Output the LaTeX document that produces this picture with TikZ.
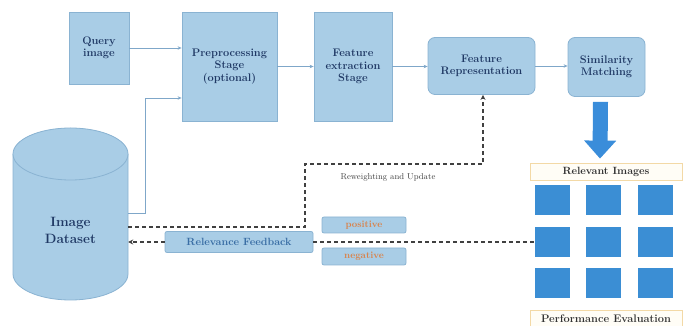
\documentclass[tikz,border=0pt]{standalone}
\usetikzlibrary{arrows.meta,calc}
\definecolor{boxfill}{HTML}{A9CDE6}
\definecolor{boxdraw}{HTML}{8AB3D2}
\definecolor{boxtext}{HTML}{1F3864}
\definecolor{flowline}{HTML}{7FA7C9}
\definecolor{dashline}{HTML}{404040}
\definecolor{bigblue}{HTML}{3A8DDA}
\definecolor{tileblue}{HTML}{3B8ED4}
\definecolor{labeldraw}{HTML}{F3D9A6}
\definecolor{labelfill}{HTML}{FFFDF6}
\definecolor{fbtext}{HTML}{3A6EA5}
\definecolor{orangetext}{HTML}{D9824A}
\tikzset{
  stagebox/.style={draw=boxdraw,fill=boxfill,line width=0.8pt,align=center,text=boxtext,
    font=\bfseries\fontsize{11}{12.5}\selectfont,inner sep=1pt},
  roundbox/.style={stagebox,rounded corners=7pt},
  flow/.style={draw=flowline,line width=0.8pt,-{Stealth[length=4pt,width=3.5pt]}},
  dashflow/.style={draw=dashline,line width=1.5pt,dash pattern=on 4pt off 3pt},
  tile/.style={fill=tileblue,draw=none,minimum width=35pt,minimum height=30pt,inner sep=0pt},
  labelbox/.style={draw=labeldraw,fill=labelfill,line width=0.8pt,minimum width=152pt,
    text=black!80,font=\bfseries\fontsize{10.5}{12}\selectfont,inner sep=0pt},
  signbox/.style={draw=boxdraw,fill=boxfill,line width=0.8pt,minimum width=84pt,minimum height=16pt,
    rounded corners=2pt,inner sep=0pt,text=orangetext,font=\bfseries\fontsize{9.5}{11}\selectfont}
}
\begin{document}
\begin{tikzpicture}[x=1pt,y=1pt]
\useasboundingbox (0,0) rectangle (686,326);
% stage boxes
\node[stagebox,minimum width=60pt,minimum height=72pt] (q) at (99,278) {Query\\image};
\node[stagebox,minimum width=95pt,minimum height=109pt] (pre) at (229.5,259.5) {Preprocessing\\Stage\\(optional)};
\node[stagebox,minimum width=78pt,minimum height=109pt] (fe) at (353,259.5) {Feature\\extraction\\Stage};
\node[roundbox,minimum width=107pt,minimum height=57pt] (fr) at (481.5,260) {Feature\\Representation};
\node[roundbox,minimum width=77pt,minimum height=59pt] (sm) at (606.5,259) {Similarity\\Matching};
% cylinder
\fill[boxfill] (13,172) -- (13,52) arc (180:360:57.5 and 26) -- (128,172) arc (0:180:57.5 and 26) -- cycle;
\draw[boxdraw,line width=0.8pt] (13,172) -- (13,52) arc (180:360:57.5 and 26) -- (128,172);
\draw[boxdraw,line width=0.8pt,fill=boxfill] (70.5,172) ellipse (57.5 and 26);
\node[minimum width=115pt,minimum height=172pt,inner sep=0pt] (ds) at (70.5,112) {};
\node[align=center,text=boxtext,font=\bfseries\fontsize{13.5}{17}\selectfont] (dst) at (70.5,96) {Image\\Dataset};
% flow arrows
\draw[flow] (q.east) -- (q.east -| pre.west);
\draw[flow] (pre.east) -- (pre.east -| fe.west);
\draw[flow] (fe.east) -- (fe.east -| fr.west);
\draw[flow] (fr.east) -- (fr.east -| sm.west);
\coordinate (dsr) at (ds.east |- 0,113);
\draw[flow] (dsr) -| (145,228) -- (pre.west |- 0,228);
% big arrow
\node[labelbox,minimum height=17pt] (rel) at (606,154.5) {Relevant Images};
\draw[bigblue,line width=15pt,-{Triangle[width=31pt,length=18pt]}] ($(sm.south)+(-6,-5)$) -- ($(rel.north)+(-6,4)$);
% tiles
\foreach \c/\x in {1/552.5,2/603,3/655.5}{
  \foreach \r/\y in {1/126,2/84,3/43}{
    \node[tile] (t\r\c) at (\x,\y) {};
  }
}
\node[labelbox,minimum height=18pt,font=\bfseries\fontsize{11}{12}\selectfont] (pe) at (606,7) {Performance Evaluation};
% feedback
\node[signbox,minimum width=148pt,minimum height=21pt,text=fbtext,font=\bfseries\fontsize{10.5}{12}\selectfont] (rf) at (239,84) {Relevance Feedback};
\node[signbox] (pos) at (364,101) {positive};
\node[signbox,minimum height=17pt] (neg) at (364,69.5) {negative};
\draw[dashflow,-{Stealth[length=5pt,width=5pt]}] (rf.west) -- (rf.west -| ds.east);
\draw[dashflow] (rf.east) -- (t21.west);
\coordinate (dsd) at (ds.east |- 0,99);
\draw[dashflow,-{Stealth[length=5pt,width=5pt]}] (dsd) -| (305,162) -| (fr.south -| 483,0);
\node[font=\fontsize{8.5}{10}\selectfont,text=black!75] (rw) at (388,149) {Reweighting and Update};
\end{tikzpicture}
\end{document}
